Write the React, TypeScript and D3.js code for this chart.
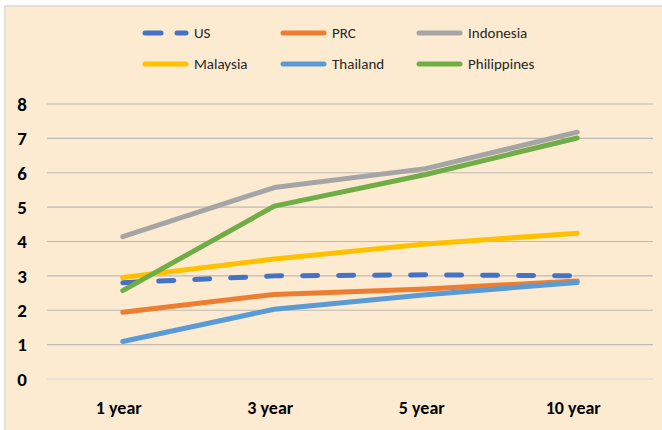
import React, { useEffect, useRef } from "react";
import * as d3 from "d3";

// periods on the x axis
const periods = ["1 year", "3 year", "5 year", "10 year"];
const yTicks = [0, 1, 2, 3, 4, 5, 6, 7, 8];

const seriesNames = ["US", "PRC", "Indonesia", "Malaysia", "Thailand", "Philippines"];
const seriesColors = ["#4472C4", "#ED7D31", "#A5A5A5", "#FFC000", "#5B9BD5", "#70AD47"];

const usValues = [2.8, 3.0, 3.03, 3.0];
const prcValues = [1.94, 2.46, 2.62, 2.85];
const indonesiaValues = [4.14, 5.57, 6.12, 7.18];
const malaysiaValues = [2.95, 3.49, 3.93, 4.24];
const thailandValues = [1.09, 2.03, 2.45, 2.81];
const philippinesValues = [2.57, 5.03, 5.95, 7.01];

const allValues = [usValues, prcValues, indonesiaValues, malaysiaValues, thailandValues, philippinesValues];

const W = 662;
const H = 430;
const FONT = "Carlito, 'Liberation Sans Narrow', 'Liberation Sans', Arial, sans-serif";

const App: React.FC = () => {
  const ref = useRef<SVGSVGElement | null>(null);

  useEffect(() => {
    const svg = d3.select(ref.current);
    svg.selectAll("*").remove();

    // chart background + border
    svg.append("rect").attr("width", W).attr("height", H).attr("fill", "#ffffff");
    svg
      .append("rect")
      .attr("x", 5)
      .attr("y", 6)
      .attr("width", W + 10)
      .attr("height", H + 10)
      .attr("fill", "#FCEBD1")
      .attr("stroke", "#D9D9D9")
      .attr("stroke-width", 1.5);

    const plot = { left: 47, right: 653, top: 104, bottom: 379 };

    const x = d3.scaleBand().domain(periods).range([plot.left, plot.right]);
    const y = d3.scaleLinear().domain([0, 8]).range([plot.bottom, plot.top]);

    // gridlines
    svg
      .append("g")
      .selectAll("line")
      .data(yTicks)
      .enter()
      .append("line")
      .attr("x1", plot.left)
      .attr("x2", plot.right)
      .attr("y1", (d) => y(d))
      .attr("y2", (d) => y(d))
      .attr("stroke", (d) => (d === 0 ? "#D9D9D9" : "#BDBAB5"))
      .attr("stroke-width", 1.2);

    // y labels
    svg
      .append("g")
      .selectAll("text")
      .data(yTicks)
      .enter()
      .append("text")
      .attr("x", 22)
      .attr("y", (d) => y(d))
      .attr("dy", "0.36em")
      .attr("text-anchor", "middle")
      .style("font-family", FONT)
      .style("font-weight", "bold")
      .style("font-size", "19px")
      .attr("fill", "#000")
      .text((d) => d);

    // x labels
    svg
      .append("g")
      .selectAll("text")
      .data(periods)
      .enter()
      .append("text")
      .attr("x", (d) => x(d)! + x.bandwidth() / 2 - 4)
      .attr("y", 408)
      .attr("dy", "0.35em")
      .attr("text-anchor", "middle")
      .style("font-family", FONT)
      .style("font-weight", "bold")
      .style("font-size", "18px")
      .attr("fill", "#000")
      .text((d) => d);

    const line = d3
      .line<number>()
      .x((_d, i) => x(periods[i])! + x.bandwidth() / 2)
      .y((d) => y(d));

    // draw in legend order
    allValues.forEach((vals, i) => {
      svg
        .append("path")
        .datum(vals)
        .attr("d", line)
        .attr("fill", "none")
        .attr("stroke", seriesColors[i])
        .attr("stroke-width", 5)
        .attr("stroke-linecap", "round")
        .attr("stroke-linejoin", "round")
        .attr("stroke-dasharray", i === 0 ? "15 21" : null);
    });

    // legend
    const legendX = [143, 281, 417];
    const legendY = [33, 64];
    seriesNames.forEach((name, i) => {
      const lx = legendX[i % 3];
      const ly = legendY[Math.floor(i / 3)];
      const g = svg.append("g");
      if (i === 0) {
        g.append("line")
          .attr("x1", lx + 2).attr("x2", lx + 18).attr("y1", ly).attr("y2", ly)
          .attr("stroke", seriesColors[i]).attr("stroke-width", 5).attr("stroke-linecap", "round");
        g.append("line")
          .attr("x1", lx + 34).attr("x2", lx + 43).attr("y1", ly).attr("y2", ly)
          .attr("stroke", seriesColors[i]).attr("stroke-width", 5).attr("stroke-linecap", "round");
      } else {
        g.append("line")
          .attr("x1", lx + 2).attr("x2", lx + 43).attr("y1", ly).attr("y2", ly)
          .attr("stroke", seriesColors[i]).attr("stroke-width", 5).attr("stroke-linecap", "round");
      }
      g.append("text")
        .attr("x", lx + 51)
        .attr("y", ly)
        .attr("dy", "0.35em")
        .style("font-family", FONT)
        .style("font-size", "15px")
        .attr("fill", "#262626")
        .text(name);
    });
  }, []);

  return (
    <svg
      ref={ref}
      width={W}
      height={H}
      style={{ position: "absolute", left: 0, top: 0, display: "block" }}
    />
  );
};

export default App;
